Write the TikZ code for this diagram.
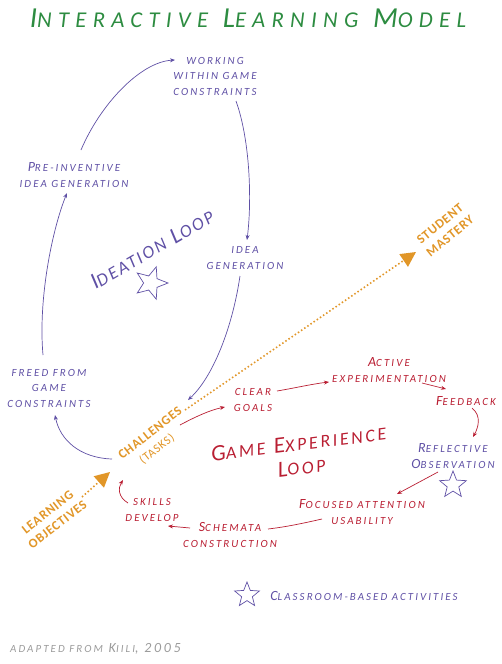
\documentclass[tikz,border=0pt]{standalone}
\usepackage{fontspec}
\setmainfont{Carlito}[LetterSpace=19]
\newfontfamily\titlefont{Carlito}[LetterSpace=28]
\newfontfamily\loopfont{Carlito}[LetterSpace=12]
\newfontfamily\gamefont{Carlito}[LetterSpace=15]
\newfontfamily\ofont{Carlito}[LetterSpace=6]
\usetikzlibrary{arrows.meta,shapes.geometric}
\definecolor{purp}{RGB}{95,80,165}
\definecolor{redc}{RGB}{185,30,50}
\definecolor{oran}{RGB}{225,150,40}
\definecolor{grnc}{RGB}{45,140,65}
\definecolor{greyc}{RGB}{155,155,155}
\makeatletter
\newcommand\s[1]{{\fontsize{\strip@pt\dimexpr\f@size pt*78/100\relax}{\f@baselineskip}\selectfont #1}}
\makeatother
\tikzset{
  lbl/.style={font=\fontsize{14}{15.5}\selectfont\itshape, align=center, inner sep=1pt},
  pnode/.style={lbl, text=purp},
  rnode/.style={lbl, text=redc},
  onode/.style={text=oran, align=center, inner sep=1pt},
  parr/.style={draw=purp, line width=0.7pt, -{Stealth[length=5pt,width=4pt]}},
  rarr/.style={draw=redc, line width=0.7pt, -{Stealth[length=5pt,width=4pt]}},
  rline/.style={draw=redc, line width=0.7pt},
  odot/.style={draw=oran, line width=1.6pt, dash pattern=on 1.5pt off 2.3pt, -{Triangle[length=15pt,width=15pt]}},
  starshape/.style={star, star points=5, star point ratio=2.3, draw=purp, line width=0.7pt, inner sep=0pt}
}
\begin{document}
\begin{tikzpicture}[x=1pt,y=-1pt]
\useasboundingbox (0,0) rectangle (502,664);
% title
\node[text=grnc, inner sep=0pt, font=\titlefont\itshape\fontsize{29}{30}\selectfont] (title) at (248,18) {I\s{NTERACTIVE} L\s{EARNING} M\s{ODEL}};
% ideation loop nodes
\node[pnode] (work) at (215,76) {\s{WORKING}\\\s{WITHIN GAME}\\\s{CONSTRAINTS}};
\node[pnode] (preinv) at (74,175) {P\s{RE-INVENTIVE}\\\s{IDEA GENERATION}};
\node[pnode] (ideagen) at (245,258) {\s{IDEA}\\\s{GENERATION}};
\node[pnode] (freed) at (49,388) {\s{FREED FROM}\\\s{GAME}\\\s{CONSTRAINTS}};
\node[text=purp, inner sep=0pt, rotate=30, font=\loopfont\itshape\fontsize{23}{26}\selectfont] (ideation) at (152,249) {I\s{DEATION} L\s{OOP}};
\node[starshape, minimum size=34pt, rotate=-18] (star1) at (151,283) {};
% game experience loop nodes
\node[rnode] (clear) at (253,400) {\s{CLEAR}\\\s{GOALS}};
\node[rnode] (active) at (389,370) {A\s{CTIVE}\\\s{EXPERIMENTATION}};
\node[rnode] (feedback) at (466,401) {F\s{EEDBACK}};
\node[pnode] (reflect) at (453,456) {R\s{EFLECTIVE}\\O\s{BSERVATION}};
\node[starshape, minimum size=28pt] (star2) at (453,485) {};
\node[rnode] (focused) at (362,512) {F\s{OCUSED ATTENTION}\\\s{USABILITY}};
\node[rnode] (schemata) at (230,535) {S\s{CHEMATA}\\\s{CONSTRUCTION}};
\node[rnode] (skills) at (152,510) {\s{SKILLS}\\\s{DEVELOP}};
\node[text=redc, align=center, inner sep=0pt, rotate=7, font=\gamefont\itshape\fontsize{23}{24}\selectfont] (gameloop) at (300,455) {G\s{AME} E\s{XPERIENCE}\\L\s{OOP}};
% orange nodes
\node[onode, rotate=38, font=\ofont\bfseries\fontsize{13}{14}\selectfont] (chal) at (150,433) {CHALLENGES};
\node[onode, rotate=38, font=\ofont\fontsize{12}{14}\selectfont] (tasks) at (157,449) {(TASKS)};
\node[onode, rotate=38, font=\ofont\bfseries\fontsize{13}{16}\selectfont] (learn) at (52.5,518.5) {LEARNING\\OBJECTIVES};
\node[onode, rotate=39, font=\ofont\bfseries\fontsize{13}{16}\selectfont] (mastery) at (445,230) {STUDENT\\MASTERY};
% legend and credit
\node[starshape, minimum size=26pt] (star3) at (247,595) {};
\node[pnode] (legend) at (364,596) {C\s{LASSROOM-BASED ACTIVITIES}};
\node[lbl, text=greyc, anchor=west, inner sep=0pt] (credit) at (10,649) {\s{ADAPTED FROM} K\s{IILI}, 2005};
% purple connectors
\draw[parr] ([shift={(-38,26)}]chal.center) .. controls (80,458) and (60,440) .. ([shift={(6,27)}]freed.center);
\draw[parr] ([shift={(-6,-33)}]freed.center) .. controls (38,300) and (52,230) .. ([shift={(-7,18)}]preinv.center);
\draw[parr] ([shift={(7,-25)}]preinv.center) .. controls (100,105) and (140,62) .. ([shift={(-40,-16)}]work.center);
\draw[parr] ([shift={(21,25)}]work.center) .. controls (250,140) and (252,200) .. ([shift={(2,-18)}]ideagen.center);
\draw[parr] ([shift={(-5,18)}]ideagen.center) .. controls (232,330) and (212,378) .. ([shift={(38,-33)}]chal.center);
% red connectors
\draw[rarr] ([shift={(30,-8)}]chal.center) .. controls (195,417) and (210,410) .. ([shift={(-28,7)}]clear.center);
\draw[rarr] ([shift={(24,-9)}]clear.center) .. controls (295,388) and (312,384) .. ([shift={(-60,12)}]active.center);
\draw[rarr] ([shift={(33,13)}]active.center) -- ([shift={(-20,-12)}]feedback.center);
\draw[rarr] ([shift={(6,7)}]feedback.center) .. controls (482,416) and (478,428) .. ([shift={(20,-19)}]reflect.center);
\draw[rarr] ([shift={(-15,16)}]reflect.center) -- ([shift={(35,-18)}]focused.center);
\draw[rline] ([shift={(-40,7)}]focused.center) .. controls (300,524) and (285,527) .. ([shift={(38,-6)}]schemata.center);
\draw[rarr] ([shift={(-40,-7)}]schemata.center) -- ([shift={(16,16)}]skills.center);
\draw[rarr] ([shift={(-24,-7)}]skills.center) .. controls (118,497) and (118,488) .. ([shift={(-27,47)}]chal.center);
% orange dotted arrows
\draw[odot] ([shift={(29.5,-21.5)}]learn.center) -- ([shift={(-40,39)}]chal.center);
\draw[odot] ([shift={(35,-23)}]chal.center) -- ([shift={(-29,22)}]mastery.center);
\end{tikzpicture}
\end{document}
